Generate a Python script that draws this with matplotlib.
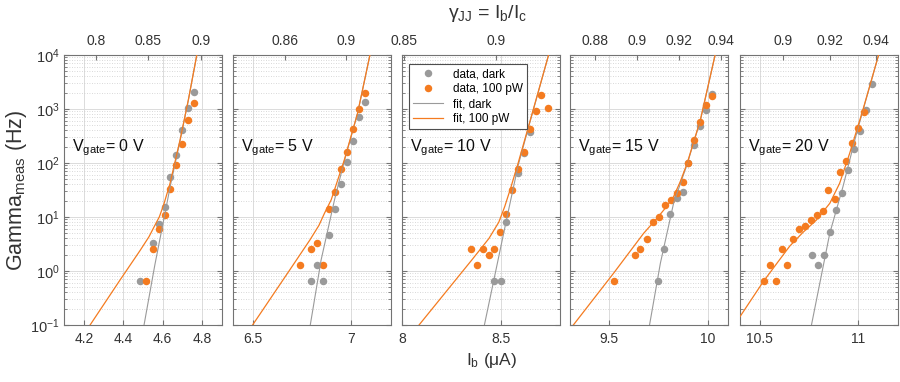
import numpy as np
import matplotlib
matplotlib.use('Agg')
import matplotlib.pyplot as plt
from matplotlib.ticker import LogLocator, NullFormatter, FixedLocator, FixedFormatter

plt.rcParams['font.family'] = ['Liberation Sans', 'DejaVu Sans']
plt.rcParams['mathtext.fontset'] = 'custom'
plt.rcParams['mathtext.rm'] = 'Liberation Sans'
plt.rcParams['mathtext.it'] = 'Liberation Sans:italic'
plt.rcParams['mathtext.sf'] = 'Liberation Sans'
plt.rcParams['mathtext.default'] = 'regular'

# ---------------- data ----------------
vgate = [0, 5, 10, 15, 20]
ic_uA = [5.325, 7.747, 9.42, 10.71, 11.80]

ib_dark_0 = [4.486, 4.549, 4.580, 4.610, 4.639, 4.668, 4.698, 4.730, 4.759]
rate_dark_0 = [0.65, 3.3, 7.3, 15.3, 55, 141, 414, 1060, 2070]
ib_light_0 = [4.515, 4.549, 4.580, 4.610, 4.639, 4.668, 4.698, 4.730, 4.759]
rate_light_0 = [0.65, 2.6, 5.9, 10.7, 32.5, 93, 228, 617, 1310]

ib_dark_5 = [6.796, 6.826, 6.857, 6.887, 6.917, 6.947, 6.978, 7.008, 7.036, 7.067]
rate_dark_5 = [0.65, 1.31, 0.65, 4.6, 13.9, 41, 104, 259, 701, 1370]
ib_light_5 = [6.738, 6.796, 6.826, 6.857, 6.887, 6.917, 6.947, 6.978, 7.008, 7.036, 7.067]
rate_light_5 = [1.31, 2.6, 3.3, 1.31, 13.9, 29.4, 77, 162, 426, 1014, 2003]

ib_dark_10 = [8.465, 8.500, 8.529, 8.588, 8.618, 8.648]
rate_dark_10 = [0.65, 0.65, 8.0, 64, 153, 380]
ib_light_10 = [8.348, 8.378, 8.409, 8.439, 8.468, 8.498, 8.529, 8.557, 8.588, 8.618,
               8.648, 8.677, 8.706, 8.738]
rate_light_10 = [2.6, 1.31, 2.6, 1.95, 2.6, 5.3, 11.5, 31.6, 77, 162, 426, 906, 1815, 1045]

ib_dark_15 = [9.748, 9.779, 9.810, 9.842, 9.872, 9.901, 9.930, 9.961, 9.990, 10.022]
rate_dark_15 = [0.65, 2.6, 11.2, 22.2, 28.6, 99, 215, 477, 972, 1920]
ib_light_15 = [9.524, 9.630, 9.658, 9.691, 9.721, 9.752, 9.781, 9.811, 9.842, 9.872,
               9.901, 9.930, 9.961, 9.990, 10.022]
rate_light_15 = [0.65, 1.95, 2.6, 3.97, 8.0, 10, 16.7, 21, 28, 45, 99, 267, 566, 1186, 1766]

ib_dark_20 = [10.768, 10.798, 10.829, 10.859, 10.890, 10.920, 10.949, 10.979, 11.009,
              11.040, 11.068]
rate_dark_20 = [1.95, 1.31, 1.95, 5.3, 13.3, 28, 75, 185, 386, 944, 2860]
ib_light_20 = [10.520, 10.550, 10.581, 10.611, 10.641, 10.668, 10.700, 10.731, 10.759,
               10.790, 10.820, 10.849, 10.880, 10.910, 10.938, 10.969, 10.997, 11.028]
rate_light_20 = [0.65, 1.31, 0.65, 2.6, 1.31, 3.9, 6.0, 6.7, 8.8, 11, 13.1, 31, 21.9, 68,
                 110, 238, 445, 893]

# fit curves
fit_ib_dark_0 = [4.505, 4.560, 4.598, 4.640, 4.688, 4.730, 4.773]
fit_rate_dark_0 = [0.1, 1.3, 6.6, 40, 260, 1450, 10000]
fit_ib_light_0 = [4.231, 4.383, 4.485, 4.530, 4.560, 4.583, 4.607, 4.637, 4.688, 4.730, 4.773]
fit_rate_light_0 = [0.1, 0.68, 2.4, 4.3, 7.0, 10.1, 17.9, 42, 267, 1470, 10000]

fit_ib_dark_5 = [6.791, 6.846, 6.914, 6.964, 7.031, 7.094]
fit_rate_dark_5 = [0.1, 1.6, 20.7, 110, 820, 10000]
fit_ib_light_5 = [6.498, 6.695, 6.790, 6.835, 6.863, 6.897, 6.964, 7.031, 7.094]
fit_rate_light_5 = [0.1, 1.16, 3.8, 7.0, 11.7, 20.7, 114, 832, 10000]

fit_ib_dark_10 = [8.417, 8.529, 8.588, 8.655, 8.743]
fit_rate_dark_10 = [0.1, 8.8, 89, 700, 10000]
fit_ib_light_10 = [8.085, 8.353, 8.440, 8.490, 8.520, 8.550, 8.588, 8.655, 8.743]
fit_rate_light_10 = [0.1, 1.6, 4.0, 8.0, 15.5, 34, 98.6, 721, 10000]

fit_ib_dark_15 = [9.704, 9.759, 9.826, 9.895, 9.962, 10.037]
fit_rate_dark_15 = [0.1, 1.39, 17.9, 95, 610, 10000]
fit_ib_light_15 = [9.317, 9.521, 9.674, 9.740, 9.790, 9.826, 9.860, 9.895, 9.962, 10.037]
fit_rate_light_15 = [0.1, 0.906, 4.99, 9.3, 15.5, 23.8, 45, 98.6, 625, 10000]

fit_ib_dark_20 = [10.763, 10.856, 10.923, 10.985, 11.024, 11.104]
fit_rate_dark_20 = [0.1, 5.0, 36.5, 282, 930, 10000]
fit_ib_light_20 = [10.400, 10.518, 10.600, 10.653, 10.720, 10.788, 10.856, 10.906, 10.957,
                   11.024, 11.104]
fit_rate_light_20 = [0.143, 0.634, 1.6, 2.9, 5.2, 8.79, 17.9, 42, 151, 957, 10000]

bottom_ticks = [[4.2, 4.4, 4.6, 4.8], [6.5, 7], [8, 8.5], [9.5, 10], [10.5, 11]]
bottom_labels = [['4.2', '4.4', '4.6', '4.8'], ['6.5', '7'], ['8', '8.5'], ['9.5', '10'],
                 ['10.5', '11']]
top_ticks = [[0.8, 0.85, 0.9], [0.86, 0.9], [0.85, 0.9], [0.88, 0.9, 0.92, 0.94],
             [0.9, 0.92, 0.94]]
top_labels = [['0.8', '0.85', '0.9'], ['0.86', '0.9'], ['0.85', '0.9'],
              ['0.88', '0.9', '0.92', '0.94'], ['0.9', '0.92', '0.94']]
xlims = [(4.1, 4.9), (6.4, 7.2), (8.0, 8.8), (9.3, 10.1), (10.4, 11.2)]

panels = [
    (ib_dark_0, rate_dark_0, ib_light_0, rate_light_0,
     fit_ib_dark_0, fit_rate_dark_0, fit_ib_light_0, fit_rate_light_0),
    (ib_dark_5, rate_dark_5, ib_light_5, rate_light_5,
     fit_ib_dark_5, fit_rate_dark_5, fit_ib_light_5, fit_rate_light_5),
    (ib_dark_10, rate_dark_10, ib_light_10, rate_light_10,
     fit_ib_dark_10, fit_rate_dark_10, fit_ib_light_10, fit_rate_light_10),
    (ib_dark_15, rate_dark_15, ib_light_15, rate_light_15,
     fit_ib_dark_15, fit_rate_dark_15, fit_ib_light_15, fit_rate_light_15),
    (ib_dark_20, rate_dark_20, ib_light_20, rate_light_20,
     fit_ib_dark_20, fit_rate_dark_20, fit_ib_light_20, fit_rate_light_20),
]

# ---------------- style ----------------
GRAY = '#9a9a9a'
ORANGE = '#f47b20'
SPINE = '0.45'
TXT = '0.2'

W, H = 900, 382
fig = plt.figure(figsize=(W / 100, H / 100), dpi=100)
lefts_px = [64.3, 233.3, 402.3, 570.0, 740.0]
ax_w, ax_top, ax_bot = 157.5, 55.0, 325.0

axes = []
for i, (dx, dy, lx, ly, fdx, fdy, flx, fly) in enumerate(panels):
    ax = fig.add_axes([lefts_px[i] / W, (H - ax_bot) / H, ax_w / W, (ax_bot - ax_top) / H])
    axes.append(ax)
    ax.set_yscale('log')
    ax.set_ylim(0.1, 1e4)
    ax.set_xlim(*xlims[i])

    ax.yaxis.set_major_locator(LogLocator(base=10, numticks=10))
    ax.yaxis.set_minor_locator(LogLocator(base=10, subs=np.arange(2, 10), numticks=20))
    ax.yaxis.set_minor_formatter(NullFormatter())
    ax.xaxis.set_major_locator(FixedLocator(bottom_ticks[i]))
    ax.xaxis.set_major_formatter(FixedFormatter(bottom_labels[i]))

    ax.grid(True, which='major', axis='both', color='0.86', lw=0.7, ls='-')
    ax.grid(True, which='minor', axis='y', color='0.8', lw=0.6, ls=(0, (1, 2)))
    ax.set_axisbelow(True)

    ax.plot(dx, dy, 'o', color=GRAY, ms=5.4, mec='none', label='data, dark', zorder=3)
    ax.plot(lx, ly, 'o', color=ORANGE, ms=5.4, mec='none', label='data, 100 pW', zorder=3)
    ax.plot(fdx, fdy, '-', color=GRAY, lw=0.8, label='fit, dark', zorder=4)
    ax.plot(flx, fly, '-', color=ORANGE, lw=0.9, label='fit, 100 pW', zorder=4)

    for s in ax.spines.values():
        s.set_color(SPINE)
        s.set_linewidth(0.8)
    ax.tick_params(which='both', direction='in', top=False, right=True, color=SPINE,
                   labelsize=10, labelcolor=TXT)
    ax.tick_params(which='major', length=3.5)
    ax.tick_params(which='minor', length=2)
    ax.tick_params(axis='x', pad=5)
    if i > 0:
        ax.tick_params(axis='y', labelleft=False)

    ax.text(0.05, 0.655, r'V$_{\mathrm{gate}}$= %d V' % vgate[i], transform=ax.transAxes,
            fontsize=11.5, color='0.05', va='center', ha='left')

    # top axis: gamma_JJ = Ib / Ic
    tx = ax.twiny()
    tx.set_xlim(xlims[i][0] / ic_uA[i], xlims[i][1] / ic_uA[i])
    tx.xaxis.set_major_locator(FixedLocator(top_ticks[i]))
    tx.xaxis.set_major_formatter(FixedFormatter(top_labels[i]))
    tx.tick_params(direction='in', length=3.5, color=SPINE, labelsize=10, labelcolor=TXT, pad=5)
    for s in tx.spines.values():
        s.set_visible(False)

axes[0].set_ylabel(r'Gamma$_{\mathrm{meas}}$ (Hz)', fontsize=15.5, color=TXT, labelpad=1)
axes[0].tick_params(axis='y', labelsize=10.5)
fig.text(492 / W, 1 - 360 / H, r'I$_{\mathrm{b}}$ (μA)', ha='center', va='center',
         fontsize=12.5, color=TXT)
fig.text(488 / W, 1 - 13 / H, r'$\gamma_{\mathrm{JJ}}$ = I$_{\mathrm{b}}$/I$_{\mathrm{c}}$',
         ha='center', va='center', fontsize=14, color=TXT)

leg = axes[2].legend(loc='upper left', bbox_to_anchor=(0.025, 0.975), fontsize=8.5,
                     frameon=True, fancybox=False, edgecolor='0.3', framealpha=1,
                     handlelength=2.6, handletextpad=0.8, borderpad=0.35,
                     labelspacing=0.25, borderaxespad=0.2)
leg.get_frame().set_linewidth(0.8)
leg.set_zorder(10)

fig.savefig('out.png', dpi=100)
